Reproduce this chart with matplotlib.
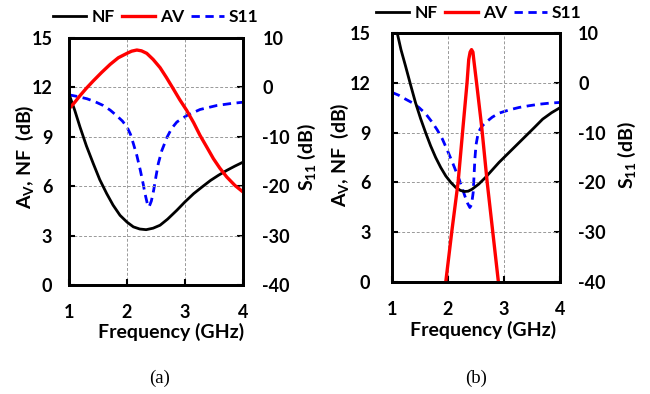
import matplotlib
matplotlib.use("Agg")
import matplotlib.pyplot as plt

plt.rcParams['font.family'] = ['Lato', 'DejaVu Sans']
plt.rcParams['font.weight'] = 'bold'
plt.rcParams['axes.unicode_minus'] = False
plt.rcParams['mathtext.fontset'] = 'custom'
plt.rcParams['mathtext.rm'] = 'Lato:bold'
plt.rcParams['mathtext.bf'] = 'Lato:bold'
plt.rcParams['mathtext.it'] = 'Lato:bold'

# ---- panel (a) ----
a_nf_f = [1.0, 1.1, 1.19, 1.3, 1.42, 1.53, 1.65, 1.76, 1.88, 2.0, 2.11, 2.22, 2.33, 2.45,
          2.57, 2.7, 2.86, 3.0, 3.15, 3.3, 3.44, 3.58, 3.72, 3.86, 4.0]
a_nf_v = [11.6, 10.6, 9.59, 8.45, 7.36, 6.4, 5.55, 4.85, 4.23, 3.82, 3.53, 3.4, 3.36, 3.45,
          3.63, 4.0, 4.54, 5.05, 5.55, 5.97, 6.35, 6.67, 6.96, 7.22, 7.46]
a_av_f = [1.0, 1.1, 1.19, 1.3, 1.42, 1.56, 1.71, 1.85, 2.0, 2.08, 2.17, 2.25, 2.34, 2.45,
          2.57, 2.68, 2.8, 2.91, 3.03, 3.15, 3.26, 3.38, 3.49, 3.6, 3.72, 3.86, 4.0]
a_av_v = [10.7, 11.1, 11.5, 11.95, 12.4, 12.9, 13.4, 13.8, 14.07, 14.2, 14.27, 14.22, 14.07,
          13.7, 13.2, 12.6, 11.9, 11.25, 10.6, 9.85, 9.08, 8.35, 7.67, 7.1, 6.56, 6.05, 5.65]
a_s11_f = [1.0, 1.15, 1.31, 1.45, 1.59, 1.71, 1.82, 1.92, 2.0, 2.06, 2.11, 2.17, 2.23, 2.28,
           2.31, 2.35, 2.38, 2.42, 2.46, 2.5, 2.54, 2.6, 2.69, 2.77, 2.86, 3.03, 3.26, 3.55,
           3.8, 4.0]
a_s11_v = [-1.5, -1.85, -2.3, -2.9, -3.66, -4.6, -5.7, -6.8, -8.0, -9.5, -11.4, -13.8, -16.8,
           -19.6, -21.5, -23.5, -24.2, -23.0, -20.8, -18.0, -15.4, -12.8, -10.1, -8.3, -7.0,
           -5.7, -4.47, -3.66, -3.25, -3.0]

# ---- panel (b) ----
b_nf_f = [1.08, 1.16, 1.24, 1.33, 1.42, 1.51, 1.6, 1.69, 1.78, 1.87, 1.96, 2.05, 2.14, 2.22,
          2.29, 2.36, 2.43, 2.55, 2.67, 2.79, 2.91, 3.03, 3.15, 3.27, 3.39, 3.54, 3.69, 3.85, 4.0]
b_nf_v = [15.2, 14.0, 13.03, 11.9, 10.8, 9.85, 9.0, 8.2, 7.5, 6.9, 6.39, 6.0, 5.69, 5.52,
          5.45, 5.47, 5.59, 5.9, 6.3, 6.75, 7.2, 7.6, 8.0, 8.4, 8.8, 9.3, 9.81, 10.2, 10.5]
b_av_f = [1.96, 2.07, 2.18, 2.27, 2.34, 2.37, 2.395, 2.42, 2.445, 2.46, 2.51, 2.6, 2.70, 2.80, 2.90]
b_av_v = [0.0, 3.1, 6.0, 9.4, 12.0, 13.4, 13.85, 14.0, 13.85, 13.4, 12.0, 9.4, 6.0, 3.0, 0.0]
b_s11_f = [1.0, 1.12, 1.24, 1.36, 1.48, 1.6, 1.72, 1.81, 1.9, 1.99, 2.08, 2.14, 2.2, 2.25,
           2.3, 2.35, 2.39, 2.42, 2.45, 2.48, 2.5, 2.54, 2.6, 2.67, 2.79, 2.91, 3.09, 3.27,
           3.45, 3.63, 3.8, 4.0]
b_s11_v = [-1.93, -2.5, -3.27, -4.0, -4.95, -6.2, -7.96, -9.5, -11.3, -13.6, -16.0, -17.7,
           -19.4, -21.0, -22.7, -24.2, -25.05, -24.5, -22.0, -15.3, -12.5, -10.0, -8.8, -8.0,
           -6.9, -6.1, -5.45, -4.95, -4.6, -4.3, -4.1, -3.94]

x_ticks = [1, 2, 3, 4]
left_ticks = [0, 3, 6, 9, 12, 15]
right_ticks = [-40, -30, -20, -10, 0, 10]
series_names = ['NF', 'AV', 'S11']
captions = ['(a)', '(b)']

W, H = 650, 394
fig = plt.figure(figsize=(W / 100, H / 100), dpi=100)

def px(x, y):
    return x / W, 1 - y / H

# layout per panel (pixel units)
panels = [
    dict(box=(69, 38, 243, 285), lpad=12.0, rpad=14.0, bpad=14.0,
         ylab_l=(25, 157), ylab_r=(307, 157), xlab=(171, 332), leg=(156, 17), cap=(160, 378)),
    dict(box=(392, 33, 560, 282), lpad=15.5, rpad=13.0, bpad=14.0,
         ylab_l=(340, 155), ylab_r=(627, 155), xlab=(483, 330), leg=(479, 13), cap=(476, 378)),
]
data = [
    (a_nf_f, a_nf_v, a_av_f, a_av_v, a_s11_f, a_s11_v),
    (b_nf_f, b_nf_v, b_av_f, b_av_v, b_s11_f, b_s11_v),
]

for i, (p, d) in enumerate(zip(panels, data)):
    x0, y0, x1, y1 = p['box']
    ax = fig.add_axes([x0 / W, 1 - y1 / H, (x1 - x0) / W, (y1 - y0) / H])
    ax2 = ax.twinx()
    nf_f, nf_v, av_f, av_v, s_f, s_v = d
    l1, = ax.plot(nf_f, nf_v, color='black', lw=2.0, label=series_names[0])
    l2, = ax.plot(av_f, av_v, color='#ff0000', lw=2.4, label=series_names[1])
    l3, = ax2.plot(s_f, s_v, color='#0000ff', lw=2.0, ls=(0, (3, 2)), label=series_names[2])
    ax.set_xlim(1, 4)
    ax.set_ylim(0, 15)
    ax2.set_ylim(-40, 10)
    ax.set_xticks(x_ticks)
    ax.set_yticks(left_ticks)
    ax2.set_yticks(right_ticks)
    ax.grid(True, color='#999999', ls=(0, (3, 2)), lw=0.7)
    ax.tick_params(axis='x', direction='in', length=4, width=1.5, labelsize=13, pad=p['bpad'])
    ax.tick_params(axis='y', direction='in', length=4, width=1.5, labelsize=13,
                   pad=p['lpad'], right=False)
    ax2.tick_params(axis='y', direction='in', length=4, width=1.5, labelsize=13, pad=p['rpad'])
    for lab in ax.get_xticklabels() + ax.get_yticklabels() + ax2.get_yticklabels():
        lab.set_fontweight('bold')
    for sp in list(ax.spines.values()) + list(ax2.spines.values()):
        sp.set_linewidth(2.0)
    ax.set_zorder(ax2.get_zorder() + 1)
    ax.patch.set_visible(False)

    fig.text(*px(*p['xlab']), 'Frequency (GHz)', ha='center', va='center',
             fontsize=14, fontweight='bold')
    fig.text(*px(*p['ylab_l']), r'A$_{\mathrm{V}}$, NF  (dB)', ha='center', va='center',
             rotation=90, fontsize=14, fontweight='bold')
    fig.text(*px(*p['ylab_r']), r'S$_{\mathrm{11}}$ (dB)', ha='center', va='center',
             rotation=90, fontsize=14, fontweight='bold')

    leg = fig.legend(handles=[l1, l2, l3], loc='center',
                     bbox_to_anchor=px(*p['leg']), ncol=3, frameon=False,
                     fontsize=12.5, handlelength=1.9, handletextpad=0.3,
                     columnspacing=0.4, borderaxespad=0.0, borderpad=0.0)
    for t in leg.get_texts():
        t.set_fontweight('bold')
    fig.text(*px(*p['cap']), captions[i], ha='center', va='center',
             fontsize=13.5, fontfamily='Liberation Serif', fontweight='normal')

fig.savefig('out.png', dpi=100)
